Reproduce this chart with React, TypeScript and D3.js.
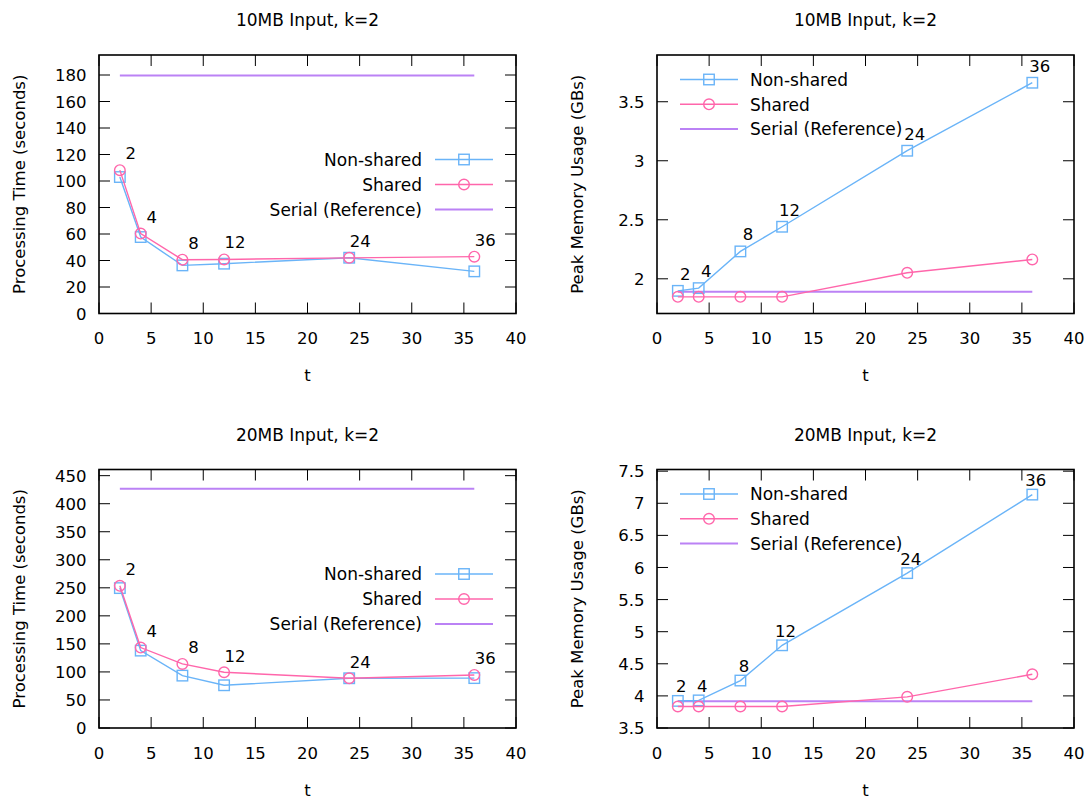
import React from "react";
import * as d3 from "d3";

const threads = [2, 4, 8, 12, 24, 36];
const pointLabels = ["2", "4", "8", "12", "24", "36"];

const time10NonShared = [103, 57.7, 36.3, 37.6, 42.1, 31.8];
const time10Shared = [108.2, 60.3, 40.6, 40.8, 42.0, 42.9];
const time10Serial = 179.6;

const mem10NonShared = [1.898, 1.921, 2.232, 2.441, 3.085, 3.661];
const mem10Shared = [1.847, 1.847, 1.847, 1.847, 2.051, 2.164];
const mem10Serial = 1.89;

const time20NonShared = [249.5, 138, 93.4, 76.2, 88.7, 89];
const time20Shared = [253.6, 143.4, 114.3, 99.4, 88.7, 94.6];
const time20Serial = 426.8;

const mem20NonShared = [3.922, 3.93, 4.239, 4.788, 5.912, 7.135];
const mem20Shared = [3.835, 3.835, 3.835, 3.835, 3.985, 4.337];
const mem20Serial = 3.918;

const xTicks = [0, 5, 10, 15, 20, 25, 30, 35, 40];
const timeTicks10 = [0, 20, 40, 60, 80, 100, 120, 140, 160, 180];
const memTicks10 = [2, 2.5, 3, 3.5];
const timeTicks20 = [0, 50, 100, 150, 200, 250, 300, 350, 400, 450];
const memTicks20 = [3.5, 4, 4.5, 5, 5.5, 6, 6.5, 7, 7.5];

const seriesNames = ["Non-shared", "Shared", "Serial (Reference)"];

const BLUE = "#6ab4f8";
const PINK = "#ff66ab";
const PURPLE = "#bb82f5";
const FONT = "DejaVu Sans";
const FS = 16.5;
const FS_BIG = 17;

type PanelSpec = {
  left: number;
  top: number;
  title: string;
  yLabel: string;
  yDomain: [number, number];
  yTicks: number[];
  nonShared: number[];
  shared: number[];
  serial: number;
  legend: "right" | "left";
  labelDx: number;
  labelDy: number;
};

const W = 417;
const H = 258.5;

const panels: PanelSpec[] = [
  {
    left: 99, top: 55, title: "10MB Input, k=2", yLabel: "Processing Time (seconds)",
    yDomain: [0, 195.1], yTicks: timeTicks10, nonShared: time10NonShared, shared: time10Shared,
    serial: time10Serial, legend: "right", labelDx: 11, labelDy: -11,
  },
  {
    left: 657, top: 55, title: "10MB Input, k=2", yLabel: "Peak Memory Usage (GBs)",
    yDomain: [1.706, 3.896], yTicks: memTicks10, nonShared: mem10NonShared, shared: mem10Shared,
    serial: mem10Serial, legend: "left", labelDx: 7.5, labelDy: -11,
  },
  {
    left: 99, top: 469.5, title: "20MB Input, k=2", yLabel: "Processing Time (seconds)",
    yDomain: [0, 461], yTicks: timeTicks20, nonShared: time20NonShared, shared: time20Shared,
    serial: time20Serial, legend: "right", labelDx: 11, labelDy: -10.5,
  },
  {
    left: 657, top: 469.5, title: "20MB Input, k=2", yLabel: "Peak Memory Usage (GBs)",
    yDomain: [3.5, 7.526], yTicks: memTicks20, nonShared: mem20NonShared, shared: mem20Shared,
    serial: mem20Serial, legend: "left", labelDx: 3.5, labelDy: -8.5,
  },
];

function fmt(v: number) {
  return String(+v.toFixed(2));
}

function Square({ x, y, color }: { x: number; y: number; color: string }) {
  const s = 10.5;
  return <rect x={x - s / 2} y={y - s / 2} width={s} height={s} fill="none" stroke={color} strokeWidth={1.4} />;
}
function Circle({ x, y, color }: { x: number; y: number; color: string }) {
  return <circle cx={x} cy={y} r={5.3} fill="none" stroke={color} strokeWidth={1.4} />;
}

function Panel({ p }: { p: PanelSpec }) {
  const x = d3.scaleLinear().domain([0, 40]).range([p.left, p.left + W]);
  const y = d3.scaleLinear().domain(p.yDomain).range([p.top + H, p.top]);
  const line = d3
    .line<number>()
    .x((_, i) => x(threads[i]))
    .y((v) => y(v));
  const bottom = p.top + H;
  const right = p.left + W;
  const tl = 11;
  const cx = p.left + W / 2;
  const capHalf = FS * 0.365;
  const capHalfBig = FS_BIG * 0.365;

  const rows = [0, 1, 2];
  let legend;
  if (p.legend === "right") {
    const tx = right - 94;
    const l0 = right - 81;
    const l1 = right - 23;
    const ys = rows.map((r) => p.top + 104.5 + 25 * r);
    legend = (
      <g>
        {rows.map((r) => (
          <text key={"lt" + r} x={tx} y={ys[r] + capHalfBig} textAnchor="end" fontSize={FS_BIG}>{seriesNames[r]}</text>
        ))}
        <line x1={l0} x2={l1} y1={ys[0]} y2={ys[0]} stroke={BLUE} strokeWidth={1.4} />
        <Square x={(l0 + l1) / 2} y={ys[0]} color={BLUE} />
        <line x1={l0} x2={l1} y1={ys[1]} y2={ys[1]} stroke={PINK} strokeWidth={1.4} />
        <Circle x={(l0 + l1) / 2} y={ys[1]} color={PINK} />
        <line x1={l0} x2={l1} y1={ys[2]} y2={ys[2]} stroke={PURPLE} strokeWidth={2} />
      </g>
    );
  } else {
    const l0 = p.left + 23;
    const l1 = p.left + 81;
    const tx = p.left + 93;
    const ys = rows.map((r) => p.top + 24.5 + 24.8 * r);
    legend = (
      <g>
        {rows.map((r) => (
          <text key={"lt" + r} x={tx} y={ys[r] + capHalfBig} textAnchor="start" fontSize={FS_BIG}>{seriesNames[r]}</text>
        ))}
        <line x1={l0} x2={l1} y1={ys[0]} y2={ys[0]} stroke={BLUE} strokeWidth={1.4} />
        <Square x={(l0 + l1) / 2} y={ys[0]} color={BLUE} />
        <line x1={l0} x2={l1} y1={ys[1]} y2={ys[1]} stroke={PINK} strokeWidth={1.4} />
        <Circle x={(l0 + l1) / 2} y={ys[1]} color={PINK} />
        <line x1={l0} x2={l1} y1={ys[2]} y2={ys[2]} stroke={PURPLE} strokeWidth={2} />
      </g>
    );
  }

  return (
    <g>
      <text x={cx} y={p.top - 29} textAnchor="middle" fontSize={FS_BIG}>{p.title}</text>
      <text x={cx} y={bottom + 67.5} textAnchor="middle">t</text>
      <text
        transform={`translate(${p.left - 74},${p.top + H / 2}) rotate(-90)`}
        textAnchor="middle"
      >
        {p.yLabel}
      </text>
      {xTicks.map((t) => (
        <g key={"xt" + t}>
          <line x1={x(t)} x2={x(t)} y1={bottom} y2={bottom - tl} stroke="#000" strokeWidth={1} />
          <line x1={x(t)} x2={x(t)} y1={p.top} y2={p.top + tl} stroke="#000" strokeWidth={1} />
          <text x={x(t)} y={bottom + 30.5} textAnchor="middle">{t}</text>
        </g>
      ))}
      {p.yTicks.map((t) => (
        <g key={"yt" + t}>
          <line x1={p.left} x2={p.left + tl} y1={y(t)} y2={y(t)} stroke="#000" strokeWidth={1} />
          <line x1={right} x2={right - tl} y1={y(t)} y2={y(t)} stroke="#000" strokeWidth={1} />
          <text x={p.left - 12.5} y={y(t) + capHalf} textAnchor="end">{fmt(t)}</text>
        </g>
      ))}
      <line
        x1={x(threads[0])}
        x2={x(threads[threads.length - 1])}
        y1={y(p.serial)}
        y2={y(p.serial)}
        stroke={PURPLE}
        strokeWidth={2}
      />
      <path d={line(p.nonShared) || ""} fill="none" stroke={BLUE} strokeWidth={1.4} />
      {p.nonShared.map((v, i) => (
        <Square key={"ns" + i} x={x(threads[i])} y={y(v)} color={BLUE} />
      ))}
      <path d={line(p.shared) || ""} fill="none" stroke={PINK} strokeWidth={1.4} />
      {p.shared.map((v, i) => (
        <Circle key={"sh" + i} x={x(threads[i])} y={y(v)} color={PINK} />
      ))}
      {threads.map((t, i) => (
        <text
          key={"pl" + i}
          x={x(t) + p.labelDx}
          y={y(Math.max(p.nonShared[i], p.shared[i])) + p.labelDy}
          textAnchor="middle"
        >
          {pointLabels[i]}
        </text>
      ))}
      {legend}
      <rect x={p.left} y={p.top} width={W} height={H} fill="none" stroke="#000" strokeWidth={1.6} />
    </g>
  );
}

export default function App() {
  return (
    <svg
      width={1092}
      height={798}
      style={{ position: "absolute", left: 0, top: 0, background: "#fff" }}
      fontFamily={FONT}
      fontSize={FS}
      fill="#000"
    >
      <rect x={0} y={0} width={1092} height={798} fill="#fff" />
      {panels.map((p, i) => (
        <Panel key={i} p={p} />
      ))}
    </svg>
  );
}
